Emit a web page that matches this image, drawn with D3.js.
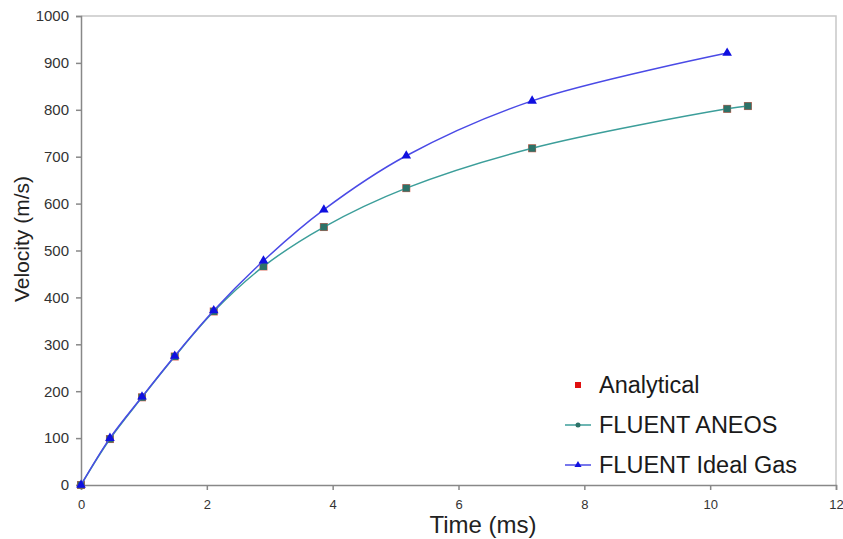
<!DOCTYPE html>
<html>
<head>
<meta charset="utf-8">
<script src="https://cdn.jsdelivr.net/npm/d3@7"></script>
<style>
  body { margin: 0; background: #fff; }
  svg { display: block; font-family: Arial, "Liberation Sans", sans-serif; }
</style>
</head>
<body>
<svg id="chart" width="843" height="539"></svg>
<script>
// values
const timeAneos = [0, 0.46, 0.97, 1.49, 2.11, 2.9, 3.86, 5.17, 7.17, 10.27, 10.6];
const velAneos = [0, 98, 187, 274, 370, 466, 550, 633, 718, 802, 808];
const timeIdeal = [0, 0.46, 0.97, 1.49, 2.11, 2.9, 3.86, 5.17, 7.17, 10.27];
const velIdeal = [0, 100, 188, 275, 372, 478, 587, 702, 819, 921];
const timeAnalytical = [0, 0.46, 0.97, 1.49, 2.11, 2.9, 3.86, 5.17, 7.17, 10.27, 10.6];
const velAnalytical = [0, 98, 187, 274, 370, 466, 550, 633, 718, 802, 808];
const xTicks = [0, 2, 4, 6, 8, 10, 12];
const yTicks = [0, 100, 200, 300, 400, 500, 600, 700, 800, 900, 1000];

const svg = d3.select("#chart");
const plotLeft = 81, plotRight = 836, plotTop = 16, plotBottom = 485;

const x = d3.scaleLinear().domain([0, 12]).range([plotLeft, plotRight]);
const y = d3.scaleLinear().domain([0, 1000]).range([plotBottom, plotTop]);

// plot area border (top and right)
svg.append("path")
    .attr("d", `M${plotLeft},${plotTop}H${plotRight}V${plotBottom}`)
    .attr("fill", "none")
    .attr("stroke", "#c8c8c8")
    .attr("stroke-width", 1.5);

const xAxis = svg.append("g")
    .attr("transform", `translate(0,${plotBottom})`)
    .call(d3.axisBottom(x).tickValues(xTicks).tickFormat(d3.format("d")).tickSize(5).tickPadding(10));
xAxis.selectAll("text").style("font-size", "13px").attr("fill", "#333");

const yAxis = svg.append("g")
    .attr("transform", `translate(${plotLeft},0)`)
    .call(d3.axisLeft(y).tickValues(yTicks).tickFormat(d3.format("d")).tickSize(5).tickPadding(7));
yAxis.selectAll("text").style("font-size", "15px").attr("fill", "#333");

svg.selectAll(".domain, .tick line")
    .attr("stroke", "#888")
    .attr("stroke-width", 1.5);

svg.append("text")
    .attr("x", 483)
    .attr("y", 533)
    .attr("text-anchor", "middle")
    .style("font-size", "24px")
    .attr("fill", "#222")
    .text("Time (ms)");

svg.append("text")
    .attr("transform", "translate(29,239) rotate(-90)")
    .attr("text-anchor", "middle")
    .style("font-size", "21px")
    .attr("fill", "#222")
    .text("Velocity (m/s)");

const line = d3.line()
    .x(d => x(d[0]))
    .y(d => y(d[1]))
    .curve(d3.curveCatmullRom.alpha(0.5));

const analytical = d3.zip(timeAnalytical, velAnalytical);
const aneos = d3.zip(timeAneos, velAneos);
const ideal = d3.zip(timeIdeal, velIdeal);

// Analytical: red squares, no line (mostly hidden under the FLUENT markers)
svg.append("g").selectAll("rect")
    .data(analytical)
    .enter()
    .append("rect")
    .attr("x", d => x(d[0]) - 4)
    .attr("y", d => y(d[1]) - 4)
    .attr("width", 8)
    .attr("height", 8)
    .attr("fill", "#d86050");

svg.append("path")
    .datum(aneos)
    .attr("d", line)
    .attr("fill", "none")
    .attr("stroke", "#3c9e9a")
    .attr("stroke-width", 1.5);

svg.append("g").selectAll("rect")
    .data(aneos)
    .enter()
    .append("rect")
    .attr("x", d => x(d[0]) - 3.5)
    .attr("y", d => y(d[1]) - 3.5)
    .attr("width", 7)
    .attr("height", 7)
    .attr("fill", "#2d7268");

svg.append("path")
    .datum(ideal)
    .attr("d", line)
    .attr("fill", "none")
    .attr("stroke", "#4a4ae6")
    .attr("stroke-width", 1.5);

const tri = d3.symbol().type(d3.symbolTriangle).size(40);
svg.append("g").selectAll("path")
    .data(ideal)
    .enter()
    .append("path")
    .attr("transform", d => `translate(${x(d[0])},${y(d[1])})`)
    .attr("d", tri)
    .attr("fill", "#1010e0");

// legend
const legendItems = [
    { label: "Analytical", type: "analytical" },
    { label: "FLUENT ANEOS", type: "aneos" },
    { label: "FLUENT Ideal Gas", type: "ideal" }
];

const legend = svg.append("g")
    .attr("transform", "translate(578, 385)");

const items = legend.selectAll("g")
    .data(legendItems)
    .enter()
    .append("g")
    .attr("transform", (d, i) => `translate(0, ${i * 40})`);

items.filter(d => d.type !== "analytical")
    .append("line")
    .attr("x1", -13).attr("x2", 13)
    .attr("stroke", d => d.type === "aneos" ? "#3c9e9a" : "#4a4ae6")
    .attr("stroke-width", 1.5);

items.filter(d => d.type === "analytical")
    .append("rect")
    .attr("x", -3).attr("y", -3).attr("width", 6).attr("height", 6)
    .attr("fill", "#e01010");

items.filter(d => d.type === "aneos")
    .append("circle")
    .attr("r", 2.5)
    .attr("fill", "#2d7268");

items.filter(d => d.type === "ideal")
    .append("path")
    .attr("d", d3.symbol().type(d3.symbolTriangle).size(22))
    .attr("fill", "#1010e0");

items.append("text")
    .attr("x", 21)
    .attr("y", 8)
    .style("font-size", "23.5px")
    .attr("fill", "#1a1a1a")
    .text(d => d.label);
</script>
</body>
</html>
